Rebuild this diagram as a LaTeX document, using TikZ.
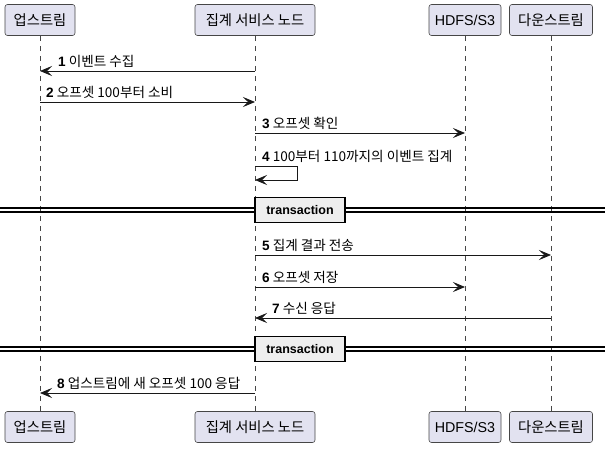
\documentclass[tikz,border=0pt]{standalone}
\usepackage{fontspec}
\setmainfont{Liberation Sans}
\newfontfamily\kr{Noto Sans CJK KR}
\usetikzlibrary{arrows.meta,positioning}
\definecolor{partfill}{HTML}{E2E2F0}
\definecolor{partline}{HTML}{181818}
\definecolor{divfill}{HTML}{EEEEEE}
\newcommand{\stepno}[1]{{\normalfont\bfseries #1}}

\begin{document}
\begin{tikzpicture}[x=1pt, y=-1pt,
    party/.style={draw=partline!80, fill=partfill, rounded corners=2.5pt, line width=0.6pt,
      minimum height=31pt, inner sep=0pt, font=\fontsize{14.3}{16}\selectfont\kr},
    life/.style={draw=partline!80, line width=0.5pt, dash pattern=on 5pt off 5pt},
    msg/.style={draw=partline, line width=0.8pt, -{Stealth[length=12pt,width=10pt,inset=5pt]}},
    lbl/.style={inner sep=0pt, anchor=south west, font=\fontsize{13.6}{15}\selectfont\kr},
    divline/.style={line width=1.1pt},
    divbox/.style={draw, fill=divfill, line width=1.6pt, minimum width=90pt, minimum height=25pt,
      inner sep=0pt, font=\fontsize{12.5}{14}\selectfont\bfseries}]
    \useasboundingbox (0,0) rectangle (605,449);
    % participants
    \node[party, minimum width=70pt] (upT) at (40,20) {업스트림};
    \node[party, minimum width=120pt] (aggT) at (255,20) {집계 서비스 노드};
    \node[party, minimum width=72pt] (hdfsT) at (465,20) {\normalfont HDFS/S3};
    \node[party, minimum width=83pt] (downT) at (551,20) {다운스트림};
    \node[party, minimum width=70pt] (upB) at (40,427) {업스트림};
    \node[party, minimum width=120pt] (aggB) at (255,427) {집계 서비스 노드};
    \node[party, minimum width=72pt] (hdfsB) at (465,427) {\normalfont HDFS/S3};
    \node[party, minimum width=83pt] (downB) at (551,427) {다운스트림};
    \draw[life] (upT) -- (upB);
    \draw[life] (aggT) -- (aggB);
    \draw[life] (hdfsT) -- (hdfsB);
    \draw[life] (downT) -- (downB);

    % messages
    \coordinate (m1a) at (aggT |- 0,71);
    \coordinate (m1b) at (upT |- 0,71);
    \draw[msg] (m1a) -- (m1b);
    \node[lbl] (l1) at ([shift={(18,-3)}]m1b) {\stepno{1} 이벤트 수집};

    \coordinate (m2a) at (upT |- 0,102);
    \coordinate (m2b) at (aggT |- 0,102);
    \draw[msg] (m2a) -- (m2b);
    \node[lbl] (l2) at ([shift={(6,-3)}]m2a) {\stepno{2} 오프셋 100부터 소비};

    \coordinate (m3a) at (aggT |- 0,133);
    \coordinate (m3b) at (hdfsT |- 0,133);
    \draw[msg] (m3a) -- (m3b);
    \node[lbl] (l3) at ([shift={(7,-3)}]m3a) {\stepno{3} 오프셋 확인};

    \coordinate (m4a) at (aggT |- 0,166);
    \coordinate (m4b) at (aggT |- 0,180);
    \draw[msg] (m4a) -- ++(42,0) |- (m4b);
    \node[lbl] (l4) at ([shift={(7,-3)}]m4a) {\stepno{4} 100부터 110까지의 이벤트 집계};

    % transaction 1
    \coordinate (d1a) at (0,208);
    \coordinate (d1b) at (605,208);
    \coordinate (d1c) at (0,212);
    \coordinate (d1d) at (605,212);
    \draw[divline] (d1a) -- (d1b);
    \draw[divline] (d1c) -- (d1d);
    \node[divbox] (tx1) at (300,210) {transaction};

    \coordinate (m5a) at (aggT |- 0,255);
    \coordinate (m5b) at (downT |- 0,255);
    \draw[msg] (m5a) -- (m5b);
    \node[lbl] (l5) at ([shift={(7,-3)}]m5a) {\stepno{5} 집계 결과 전송};

    \coordinate (m6a) at (aggT |- 0,287);
    \coordinate (m6b) at (hdfsT |- 0,287);
    \draw[msg] (m6a) -- (m6b);
    \node[lbl] (l6) at ([shift={(7,-3)}]m6a) {\stepno{6} 오프셋 저장};

    \coordinate (m7a) at (downT |- 0,318);
    \coordinate (m7b) at (aggT |- 0,318);
    \draw[msg] (m7a) -- (m7b);
    \node[lbl] (l7) at ([shift={(17,-3)}]m7b) {\stepno{7} 수신 응답};

    % transaction 2
    \coordinate (d2a) at (0,347);
    \coordinate (d2b) at (605,347);
    \coordinate (d2c) at (0,351);
    \coordinate (d2d) at (605,351);
    \draw[divline] (d2a) -- (d2b);
    \draw[divline] (d2c) -- (d2d);
    \node[divbox] (tx2) at (300,349) {transaction};

    \coordinate (m8a) at (aggT |- 0,393);
    \coordinate (m8b) at (upT |- 0,393);
    \draw[msg] (m8a) -- (m8b);
    \node[lbl] (l8) at ([shift={(17,-3)}]m8b) {\stepno{8} 업스트림에 새 오프셋 100 응답};
\end{tikzpicture}
\end{document}
